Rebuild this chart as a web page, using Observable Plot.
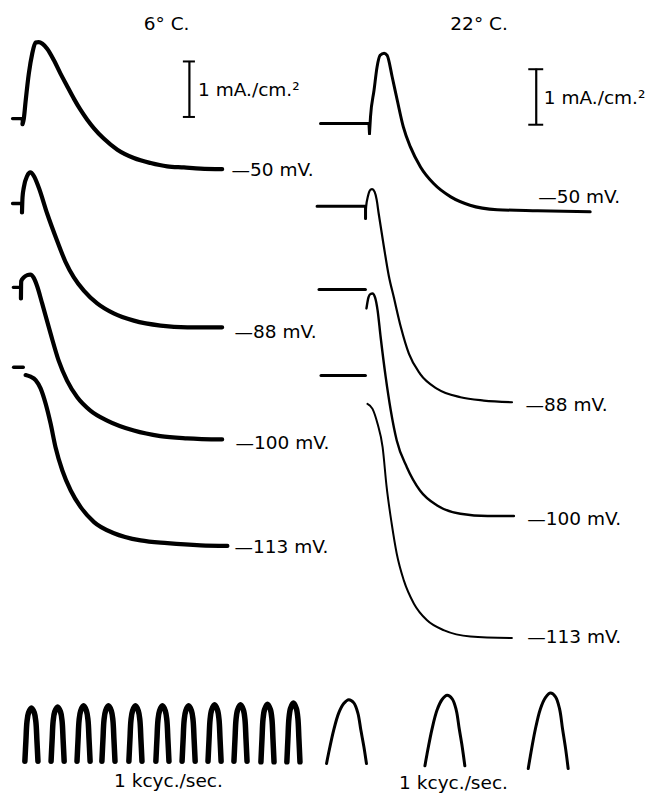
<!DOCTYPE html>
<html>
<head>
<meta charset="utf-8">
<script src="https://cdn.jsdelivr.net/npm/d3@7"></script>
<script src="https://cdn.jsdelivr.net/npm/@observablehq/plot@0.6"></script>
<style>
  html, body { margin: 0; padding: 0; background: #fff; }
  #fig { position: relative; width: 653px; height: 793px; overflow: hidden; background: #fff; }
  #fig svg { position: absolute; left: 0; top: 0; }
</style>
</head>
<body>
<div id="fig"></div>
<script>
// ---------- DATA: membrane current records ----------
// each point: [time after the voltage step (ms), current relative to holding level (mA/cm²)]

// 6 °C records
const cold50Pre  = [[-0.40, 0], [-0.03, 0], [-0.02, -0.10]];
const cold50     = [[-0.02, -0.10], [0.03, 0], [0.10, 0.32], [0.22, 0.81], [0.35, 1.17], [0.48, 1.37], [0.60, 1.38], [0.74, 1.35], [0.92, 1.26], [1.18, 1.05], [1.43, 0.81], [1.69, 0.58], [1.94, 0.36], [2.19, 0.16], [2.45, -0.02], [2.70, -0.17], [3.08, -0.36], [3.60, -0.56], [4.23, -0.71], [4.87, -0.80], [5.50, -0.86], [6.14, -0.88], [6.77, -0.90], [7.60, -0.91]];
const cold88Pre  = [[-0.36, 0], [0, 0], [0, -0.16]];
const cold88     = [[0, -0.16], [0.02, 0.11], [0.07, 0.29], [0.20, 0.50], [0.32, 0.56], [0.45, 0.50], [0.64, 0.29], [0.96, -0.18], [1.34, -0.67], [1.66, -1.05], [1.98, -1.33], [2.36, -1.57], [2.87, -1.80], [3.50, -1.98], [4.27, -2.11], [5.29, -2.20], [6.31, -2.23], [7.64, -2.23]];
const cold100Pre = [[-0.29, 0], [0, 0], [0, -0.20]];
const cold100    = [[0, -0.20], [0.01, 0.11], [0.11, 0.18], [0.24, 0.22], [0.36, 0.23], [0.49, 0.17], [0.62, 0.02], [0.81, -0.29], [1.13, -0.83], [1.44, -1.32], [1.76, -1.68], [2.15, -1.98], [2.65, -2.22], [3.29, -2.40], [4.31, -2.58], [5.32, -2.68], [6.34, -2.72], [7.68, -2.74]];
const cold113Pre = [[-0.42, 0], [-0.05, 0]];
const cold113    = [[0.04, -0.14], [0.23, -0.17], [0.42, -0.23], [0.61, -0.38], [0.80, -0.65], [0.99, -1.01], [1.18, -1.44], [1.44, -1.86], [1.76, -2.22], [2.14, -2.52], [2.65, -2.79], [3.41, -2.99], [4.43, -3.12], [5.45, -3.17], [6.72, -3.21], [7.74, -3.22]];

// 22 °C records
const warm50Pre  = [[-0.48, 0], [0, 0], [0.005, -0.18]];
const warm50     = [[0.005, -0.18], [0.015, 0.12], [0.05, 0.60], [0.08, 1.02], [0.11, 1.23], [0.15, 1.27], [0.18, 1.23], [0.23, 0.84], [0.28, 0.42], [0.34, -0.06], [0.41, -0.42], [0.51, -0.78], [0.64, -1.08], [0.81, -1.32], [1.00, -1.47], [1.27, -1.55], [1.67, -1.57], [2.19, -1.59]];
const warm88Pre  = [[-0.48, 0], [0, 0], [0, -0.22]];
const warm88     = [[0, -0.22], [0.005, -0.02], [0.025, 0.19], [0.05, 0.30], [0.065, 0.31], [0.09, 0.26], [0.11, 0.12], [0.13, -0.13], [0.18, -0.71], [0.23, -1.25], [0.28, -1.64], [0.35, -2.18], [0.43, -2.66], [0.54, -3.02], [0.71, -3.29], [0.94, -3.44], [1.17, -3.50], [1.45, -3.53]];
const warm100Pre = [[-0.47, 0], [-0.01, 0]];
const warm100    = [[0, -0.34], [0.02, -0.14], [0.04, -0.08], [0.06, -0.07], [0.085, -0.14], [0.11, -0.37], [0.14, -0.85], [0.19, -1.57], [0.24, -2.17], [0.30, -2.72], [0.40, -3.20], [0.53, -3.62], [0.70, -3.89], [0.93, -4.04], [1.20, -4.08], [1.46, -4.08]];
const warm113Pre = [[-0.45, 0], [-0.01, 0]];
const warm113    = [[0.01, -0.51], [0.06, -0.60], [0.11, -0.87], [0.16, -1.29], [0.20, -2.01], [0.25, -2.67], [0.30, -3.21], [0.37, -3.69], [0.47, -4.11], [0.60, -4.41], [0.77, -4.59], [1.03, -4.70], [1.44, -4.73]];

// labels
const conditions   = ["6° C.", "22° C."];
const stepLabels   = ["—50 mV.", "—88 mV.", "—100 mV.", "—113 mV."];
const scaleLabel   = "1 mA./cm.²";
const timeLabel    = "1 kcyc./sec.";

// 1 kc/s timing-wave crests: time of crest (ms), crest and trough levels
const coldMarkTimes   = [1.18, 2.18, 3.17, 4.12, 5.15, 6.18, 7.18, 8.17, 9.16, 10.19, 11.18];
const coldMarkTops    = [1.54, 1.56, 1.58, 1.58, 1.58, 1.58, 1.58, 1.60, 1.60, 1.61, 1.63];
const coldMarkBottoms = [0.58, 0.58, 0.58, 0.58, 0.58, 0.58, 0.58, 0.58, 0.58, 0.57, 0.57];
const coldMarkDt      = [-0.25, -0.21, -0.17, -0.11, 0, 0.11, 0.17, 0.21, 0.25];
const coldMarkFrac    = [1, 0.61, 0.26, 0.09, 0, 0.09, 0.26, 0.61, 1];

const warmMarkTimes   = [0.28, 1.254, 2.277];
const warmMarkTops    = [1.69, 1.77, 1.81];
const warmMarkBottoms = [0.54, 0.50, 0.45];
const warmMarkDt      = [-0.22, -0.20, -0.15, -0.10, -0.05, 0, 0.05, 0.09, 0.12, 0.15, 0.175];
const warmMarkFrac    = [1, 0.84, 0.48, 0.21, 0.06, 0, 0.05, 0.21, 0.48, 0.74, 1];

// ---------- LAYOUT (figure placement, in each panel's units) ----------
const W = 653, H = 793;
const PX_PER_MA = 55.5;                 // vertical calibration
const coldPxPerMs = 26.2, warmPxPerMs = 101, warmOriginPx = 320;
const coldOffsets = [[0.86, 12.16], [0.82, 10.63], [0.78, 9.12], [0.92, 7.68]];
const warmOffsets = [[0.48, 12.07], [0.446, 10.58], [0.455, 9.08], [0.455, 7.53]];
const coldLabelPos = [[8.82, 11.24], [8.93, 8.32], [8.97, 6.32], [8.93, 4.44]];
const warmLabelPos = [[2.155, 10.74], [2.03, 6.99], [2.047, 4.95], [2.047, 2.82]];
const FONT = "DejaVu Sans, sans-serif";
const FS = 18.5;

function panel(cfg) {
  const marks = [];
  cfg.traces.forEach((tr, k) => {
    const [t0, i0] = cfg.offsets[k];
    const pos = ([t, i]) => ({t: t0 + t, i: i0 + i});
    marks.push(Plot.line(tr.pre.map(pos), {x: "t", y: "i", stroke: "#000", strokeWidth: cfg.preWidth, strokeLinejoin: "round"}));
    marks.push(Plot.line(tr.main.map(pos), {x: "t", y: "i", curve: "monotone-x", stroke: "#000",
      strokeWidth: cfg.mainWidths[k], strokeLinecap: "round", strokeLinejoin: "round"}));
  });
  const arcs = cfg.markTimes.flatMap((tm, j) => cfg.markDt.map((dt, m) => ({
    arc: j, t: tm + dt,
    i: cfg.markTops[j] - cfg.markFrac[m] * (cfg.markTops[j] - cfg.markBottoms[j])
  })));
  marks.push(Plot.line(arcs, {x: "t", y: "i", z: "arc", curve: "catmull-rom", stroke: "#000", strokeWidth: cfg.markWidth, strokeLinejoin: "round"}));
  // calibration bar, 1 mA/cm²
  const b = cfg.bar;
  marks.push(Plot.ruleX([b], {x: "t", y1: "i", y2: d => d.i + 1, stroke: "#000", strokeWidth: 2.2}));
  marks.push(Plot.ruleY([b.i, b.i + 1], {y: d => d, x1: b.t - b.cap, x2: b.t + b.cap, stroke: "#000", strokeWidth: 2}));
  marks.push(Plot.text([scaleLabel], {x: b.t + b.labelDx, y: b.i + 0.48, text: d => d, textAnchor: "start", fontSize: FS, fontFamily: FONT, fill: "#000"}));
  // step potential labels
  marks.push(Plot.text(stepLabels, {x: (d, k) => cfg.labelPos[k][0], y: (d, k) => cfg.labelPos[k][1], text: d => d,
    textAnchor: "start", fontSize: FS, fontFamily: FONT, fill: "#000"}));
  // titles
  marks.push(Plot.text([cfg.title], {x: cfg.titlePos[0], y: cfg.titlePos[1], text: d => d, fontSize: FS, fontFamily: FONT, fill: "#000"}));
  marks.push(Plot.text([timeLabel], {x: cfg.timePos[0], y: cfg.timePos[1], text: d => d, fontSize: FS, fontFamily: FONT, fill: "#000"}));
  return Plot.plot({
    width: W, height: H, margin: 0,
    x: {domain: cfg.xDomain, axis: null},
    y: {domain: [0, H / PX_PER_MA], axis: null},
    style: {background: "transparent", fontFamily: FONT},
    marks
  });
}

const coldPlot = panel({
  traces: [{pre: cold50Pre, main: cold50}, {pre: cold88Pre, main: cold88}, {pre: cold100Pre, main: cold100}, {pre: cold113Pre, main: cold113}],
  offsets: coldOffsets, preWidth: 3.4, mainWidths: [4.2, 4.2, 4.2, 4.2],
  markTimes: coldMarkTimes, markTops: coldMarkTops, markBottoms: coldMarkBottoms, markDt: coldMarkDt, markFrac: coldMarkFrac, markWidth: 5.5,
  bar: {t: 7.21, i: 12.19, cap: 0.23, labelDx: 0.33},
  labelPos: coldLabelPos, title: conditions[0], titlePos: [6.34, 13.87], timePos: [6.41, 0.23],
  xDomain: [0, W / coldPxPerMs]
});
const warmPlot = panel({
  traces: [{pre: warm50Pre, main: warm50}, {pre: warm88Pre, main: warm88}, {pre: warm100Pre, main: warm100}, {pre: warm113Pre, main: warm113}],
  offsets: warmOffsets, preWidth: 3, mainWidths: [3, 2.2, 2.4, 2],
  markTimes: warmMarkTimes, markTops: warmMarkTops, markBottoms: warmMarkBottoms, markDt: warmMarkDt, markFrac: warmMarkFrac, markWidth: 3,
  bar: {t: 2.136, i: 12.05, cap: 0.074, labelDx: 0.075},
  labelPos: warmLabelPos, title: conditions[1], titlePos: [1.57, 13.86], timePos: [1.317, 0.18],
  xDomain: [-warmOriginPx / warmPxPerMs, (W - warmOriginPx) / warmPxPerMs]
});
const fig = document.getElementById("fig");
fig.append(coldPlot, warmPlot);
</script>
</body>
</html>
